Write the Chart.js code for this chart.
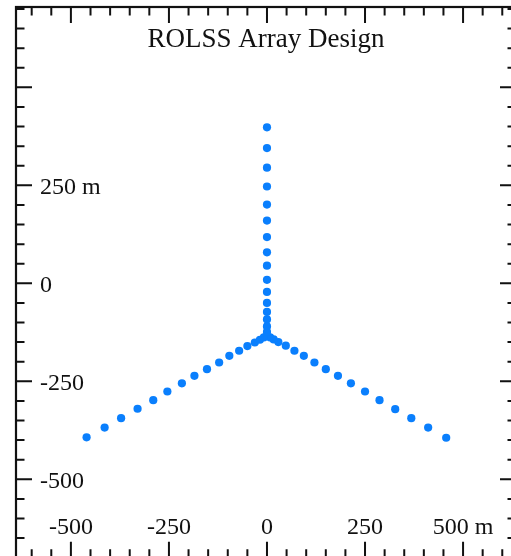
<!DOCTYPE html>
<html>
<head>
<meta charset="utf-8">
<script src="https://cdn.jsdelivr.net/npm/chart.js@4/dist/chart.umd.min.js"></script>
<style>
  html, body { margin: 0; padding: 0; background: #fff; overflow: hidden; }
  #wrap { width: 511px; height: 556px; overflow: hidden; }
  canvas { display: block; }
</style>
</head>
<body>
<div id="wrap"><canvas id="c" width="530" height="570" style="width:530px;height:570px"></canvas></div>
<script>
// ---- Data (metres) ----
const titleText = 'ROLSS Array Design';

const verticalArmX = [0, 0, 0, 0, 0, 0, 0, 0, 0, 0, 0, 0, 0, 0, 0, 0];
const verticalArmY = [398, 345, 295, 247, 201, 160, 118, 79, 45, 9, -22, -50, -73, -92, -110, -124];

const leftArmX = [-460, -414, -372, -330, -290, -254, -217, -185, -153, -122, -96, -71, -50, -31, -18, -8];
const leftArmY = [-393, -368, -344, -320, -298, -276, -255, -236, -219, -202, -185, -172, -160, -151, -144, -138];

const rightArmX = [457, 411, 368, 327, 287, 250, 214, 181, 150, 121, 94, 70, 48, 29, 17, 8];
const rightArmY = [-394, -368, -344, -321, -298, -276, -255, -236, -219, -202, -185, -172, -159, -150, -143, -138];

const xTickValues = [-500, -250, 0, 250, 500];
const xTickLabels = ['-500', '-250', '0', '250', '500 m'];
const yTickValues = [250, 0, -250, -500];
const yTickLabels = ['250 m', '0', '-250', '-500'];

const xRange = [-640, 635];
const yRange = [-700, 705];
const majorStep = 250;
const minorStep = 50;

// ---- build ----
function pts(xs, ys) { return xs.map((x, i) => ({ x: x, y: ys[i] })); }

const dotColor = '#0a7ffd';
const serif = '"Liberation Serif", "DejaVu Serif", serif';

const framePlugin = {
  id: 'frame',
  afterDraw(chart) {
    const ctx = chart.ctx;
    const a = chart.chartArea;
    const xs = chart.scales.x, ys = chart.scales.y;
    ctx.save();
    ctx.strokeStyle = '#111';
    ctx.fillStyle = '#111';
    // frame
    ctx.lineWidth = 2.2;
    ctx.strokeRect(a.left, a.top, a.right - a.left, a.bottom - a.top);
    // ticks
    ctx.lineWidth = 2;
    ctx.beginPath();
    const startX = Math.ceil(xRange[0] / minorStep) * minorStep;
    for (let v = startX; v <= xRange[1]; v += minorStep) {
      const px = xs.getPixelForValue(v);
      const len = (v % majorStep === 0) ? 16 : 8.5;
      ctx.moveTo(px, a.top); ctx.lineTo(px, a.top + len);
      ctx.moveTo(px, a.bottom); ctx.lineTo(px, a.bottom - len);
    }
    const startY = Math.ceil(yRange[0] / minorStep) * minorStep;
    for (let v = startY; v <= yRange[1]; v += minorStep) {
      const py = ys.getPixelForValue(v);
      const len = (v % majorStep === 0) ? 16 : 8.5;
      ctx.moveTo(a.left, py); ctx.lineTo(a.left + len, py);
      ctx.moveTo(a.right, py); ctx.lineTo(a.right - len, py);
    }
    ctx.stroke();
    // title
    ctx.font = '27px ' + serif;
    ctx.textAlign = 'center';
    ctx.textBaseline = 'alphabetic';
    ctx.fillText(titleText, (a.left + a.right) / 2, a.top + 39.5);
    // tick labels
    ctx.font = '24px ' + serif;
    ctx.textAlign = 'left';
    yTickValues.forEach((v, i) => {
      ctx.fillText(yTickLabels[i], a.left + 24, ys.getPixelForValue(v) + 8.5);
    });
    ctx.textAlign = 'center';
    xTickValues.forEach((v, i) => {
      ctx.fillText(xTickLabels[i], xs.getPixelForValue(v), a.bottom - 23.5);
    });
    ctx.restore();
  }
};

const common = {
  pointRadius: 4.1,
  pointHoverRadius: 4.1,
  pointBackgroundColor: dotColor,
  pointBorderWidth: 0,
  borderColor: dotColor,
  backgroundColor: dotColor,
  showLine: false
};

new Chart(document.getElementById('c'), {
  type: 'scatter',
  data: {
    datasets: [
      Object.assign({ label: 'North arm', data: pts(verticalArmX, verticalArmY) }, common),
      Object.assign({ label: 'South-west arm', data: pts(leftArmX, leftArmY) }, common),
      Object.assign({ label: 'South-east arm', data: pts(rightArmX, rightArmY) }, common)
    ]
  },
  options: {
    responsive: false,
    animation: false,
    devicePixelRatio: 1,
    layout: { padding: { left: 16, top: 7, right: 14, bottom: 12.3 } },
    plugins: { legend: { display: false }, tooltip: { enabled: false }, title: { display: false } },
    scales: {
      x: { type: 'linear', min: xRange[0], max: xRange[1], display: false },
      y: { type: 'linear', min: yRange[0], max: yRange[1], display: false }
    }
  },
  plugins: [framePlugin]
});
</script>
</body>
</html>
